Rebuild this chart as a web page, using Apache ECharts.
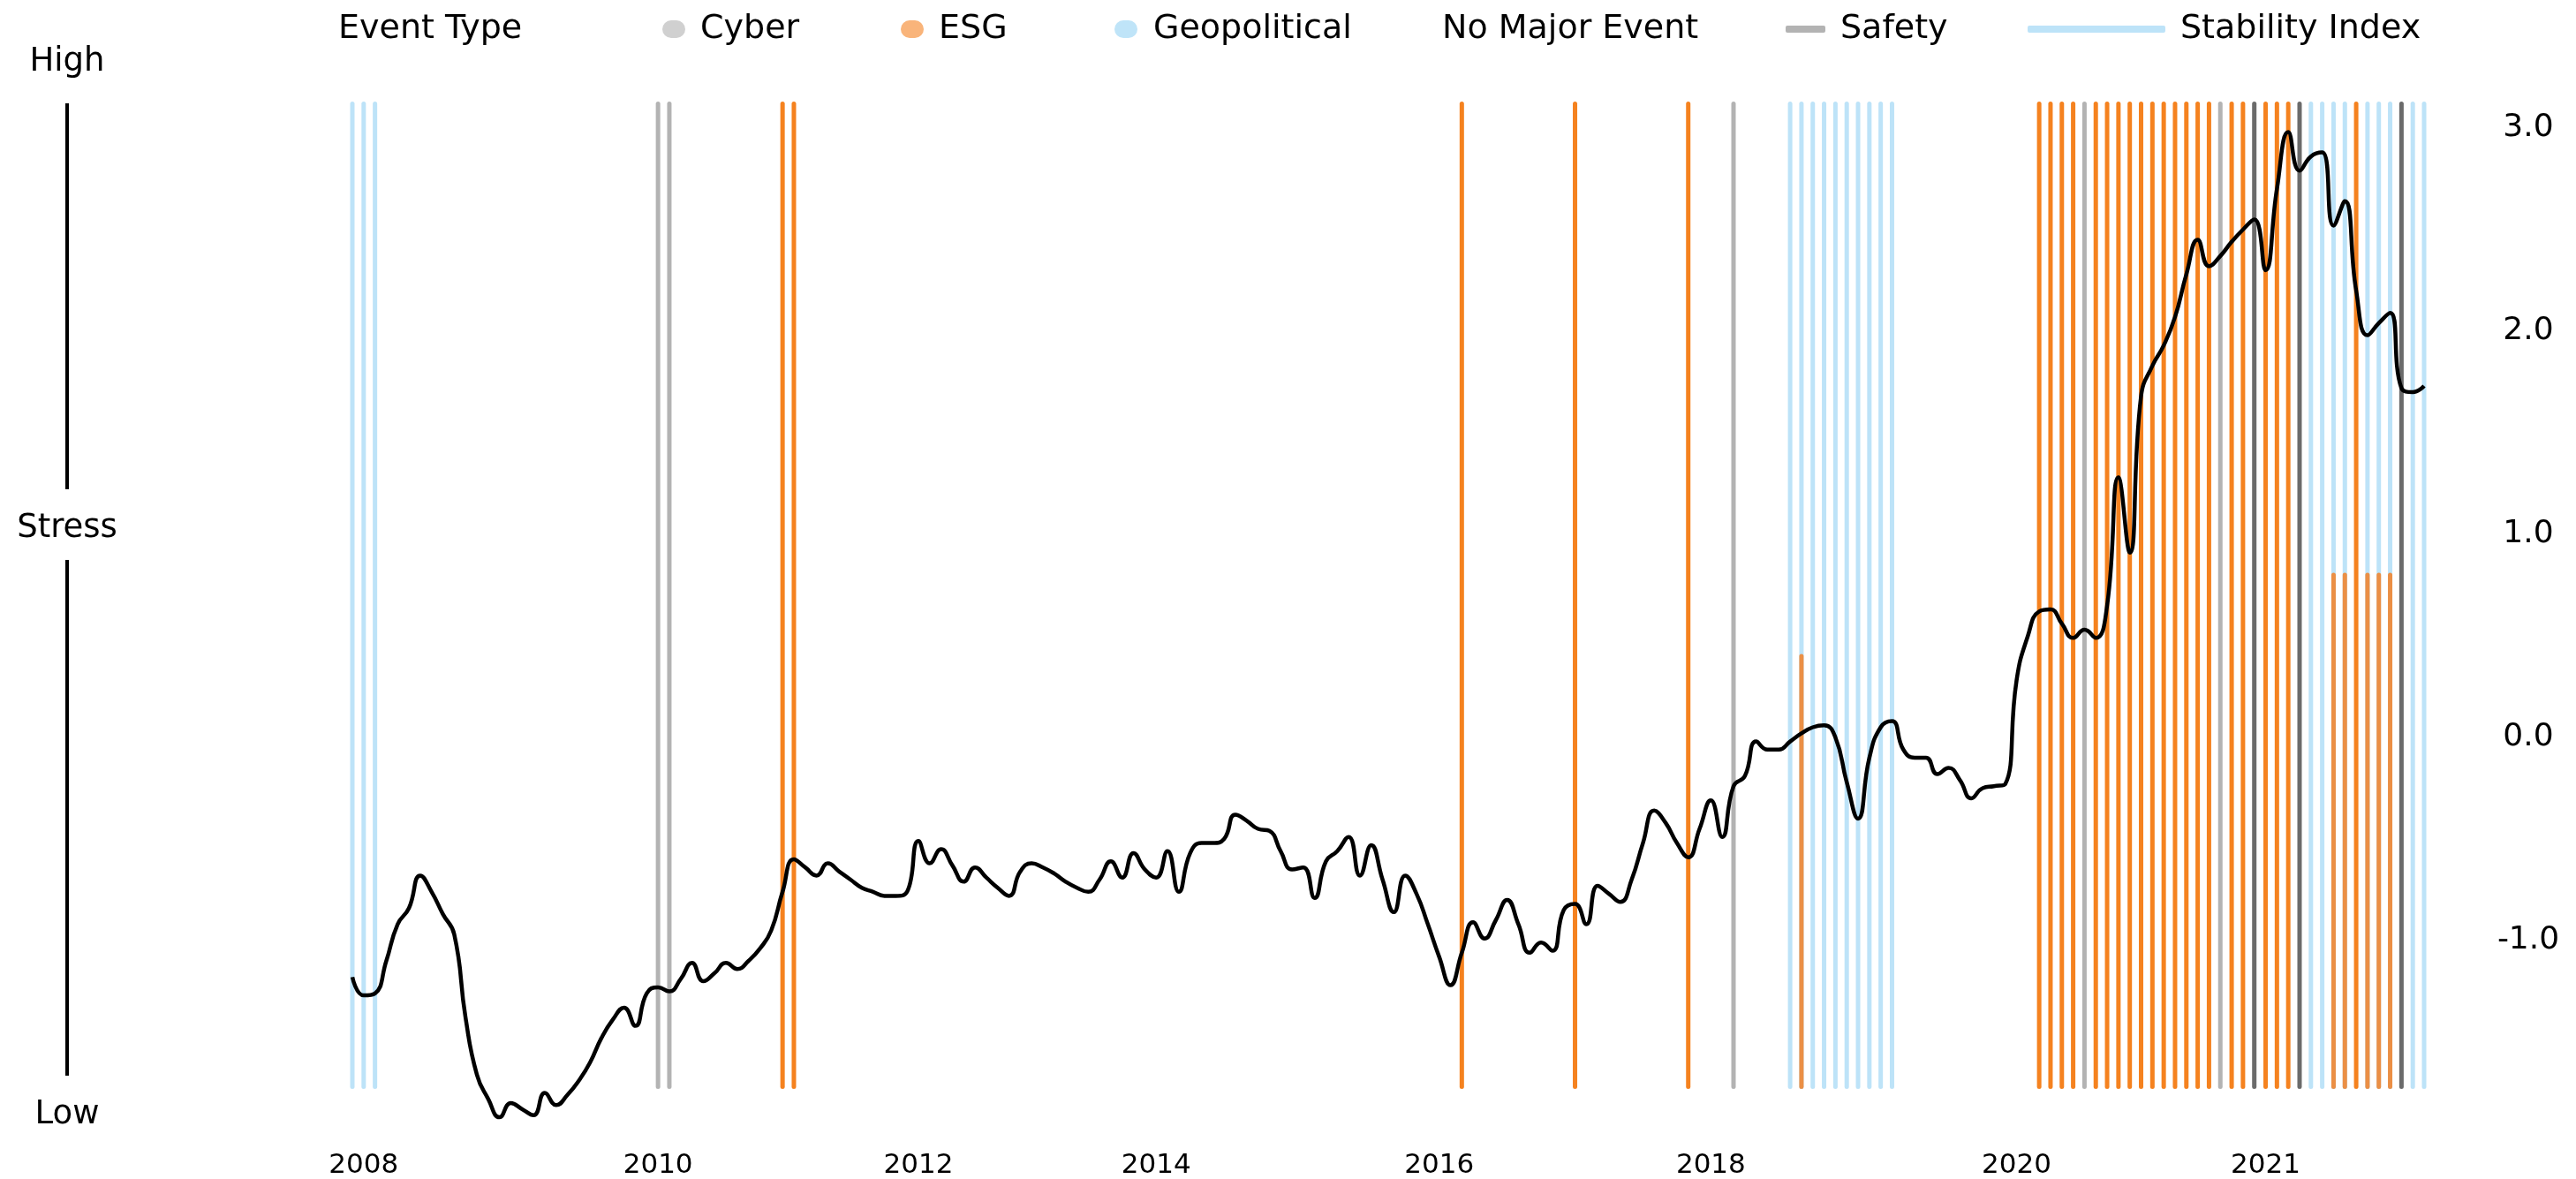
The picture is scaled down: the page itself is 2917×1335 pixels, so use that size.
<!DOCTYPE html>
<html>
<head>
<meta charset="utf-8">
<title>Stability Index and Events</title>
<script src="https://cdn.jsdelivr.net/npm/echarts@6.0.0/dist/echarts.min.js"></script>
<style>
  html, body { margin: 0; padding: 0; background: #fff; }
  #chart { width: 2917px; height: 1335px; }
</style>
</head>
<body>
<div id="chart"></div>
<script>
// one slot per observation period, year labels only at a few of them
const periods = Array.from({ length: 184 }, (_, i) => String(i));
const yearTickIndex = [1, 27, 50, 71, 96, 120, 147, 169];
const yearTickLabel = ["2008", "2010", "2012", "2014", "2016", "2018", "2020", "2021"];

const stabilityIndex = [
  -1.18, -1.27, -1.26, -1.10, -0.92, -0.84, -0.68, -0.76, -0.87, -0.97,
  -1.38, -1.66, -1.78, -1.87, -1.80, -1.83, -1.86, -1.75, -1.81, -1.76,
  -1.69, -1.60, -1.48, -1.39, -1.33, -1.42, -1.26, -1.23, -1.25, -1.19,
  -1.11, -1.20, -1.16, -1.11, -1.14, -1.10, -1.04, -0.95, -0.76, -0.60,
  -0.64, -0.68, -0.62, -0.66, -0.70, -0.74, -0.76, -0.78, -0.78, -0.76,
  -0.51, -0.62, -0.55, -0.63, -0.71, -0.64, -0.69, -0.74, -0.78, -0.66,
  -0.62, -0.64, -0.67, -0.71, -0.74, -0.76, -0.70, -0.61, -0.69, -0.57,
  -0.65, -0.69, -0.56, -0.76, -0.57, -0.52, -0.52, -0.50, -0.38, -0.41,
  -0.45, -0.46, -0.56, -0.65, -0.64, -0.79, -0.61, -0.56, -0.49, -0.68,
  -0.53, -0.70, -0.86, -0.68, -0.77, -0.92, -1.08, -1.22, -1.06, -0.91,
  -0.99, -0.90, -0.80, -0.92, -1.06, -1.01, -1.05, -0.85, -0.82, -0.92,
  -0.73, -0.77, -0.81, -0.70, -0.52, -0.36, -0.42, -0.52, -0.59, -0.45,
  -0.31, -0.49, -0.24, -0.19, -0.02, -0.06, -0.06, -0.02, 0.02, 0.05,
  0.06, 0.00, -0.22, -0.40, -0.10, 0.05, 0.08, -0.06, -0.10, -0.10,
  -0.18, -0.15, -0.21, -0.30, -0.25, -0.24, -0.23, 0.28, 0.50, 0.62,
  0.63, 0.56, 0.49, 0.53, 0.49, 0.65, 1.28, 0.91, 1.68, 1.83,
  1.93, 2.07, 2.28, 2.45, 2.32, 2.37, 2.44, 2.50, 2.55, 2.30,
  2.70, 2.98, 2.79, 2.86, 2.88, 2.52, 2.64, 2.20, 1.98, 2.04,
  2.09, 1.72, 1.70, 1.73
];

// event periods by type
const geopoliticalIdx = [0, 1, 2, 127, 128, 129, 130, 131, 132, 133, 134, 135, 136,
  173, 174, 175, 176, 178, 179, 180, 182, 183];
const esgIdx = [38, 39, 98, 108, 118, 149, 150, 151, 152, 154, 155, 156, 157, 158, 159,
  160, 161, 162, 163, 164, 166, 167, 169, 170, 171, 177];
const esgPartialIdx = [128, 175, 176, 178, 179, 180];
const esgPartialTop = [0.4, 0.8, 0.8, 0.8, 0.8, 0.8];
const cyberIdx = [27, 28];
const safetyIdx = [122, 153, 165];
const safetyMajorIdx = [168, 172, 181];
const eventSpan = [-1.72, 3.12];

const FONT = "'DejaVu Sans', sans-serif";
const PILL = "path://M10,0L16,0A10,10,0,0,1,16,20L10,20A10,10,0,0,1,10,0Z";

const chart = echarts.init(document.getElementById("chart"));

function renderEventLine(params, api) {
  const top = api.coord([api.value(0), api.value(2)]);
  const bottom = api.coord([api.value(0), api.value(1)]);
  return {
    type: "line",
    shape: { x1: top[0], y1: top[1], x2: bottom[0], y2: bottom[1] },
    style: { stroke: api.visual("color"), lineWidth: 5, lineCap: "round" },
  };
}

const fullSpan = (idx) => [idx, eventSpan[0], eventSpan[1]];

function eventSeries(name, color, data) {
  return {
    name,
    type: "custom",
    renderItem: renderEventLine,
    encode: { x: 0, y: [1, 2] },
    itemStyle: { color },
    clip: false,
    silent: true,
    data,
  };
}

const legendText = { fontFamily: FONT, fontSize: 38, color: "#000", padding: [0, 0, 0, 12] };

function legendItem(name, left, icon, w, h, color) {
  return {
    left,
    top: 14,
    padding: 0,
    selectedMode: false,
    icon,
    itemWidth: w,
    itemHeight: h,
    data: [{ name, itemStyle: { color, borderWidth: 0 } }],
    textStyle: legendText,
  };
}

const option = {
  animation: false,
  backgroundColor: "#fff",
  title: {
    text: "Event Type",
    left: 383,
    top: 14,
    padding: 0,
    textStyle: { fontFamily: FONT, fontSize: 38, fontWeight: "normal", color: "#000" },
  },
  legend: [
    legendItem("Cyber", 750, PILL, 26, 20, "#d0d0d0"),
    legendItem("ESG", 1020, PILL, 26, 20, "#f9b47a"),
    legendItem("Geopolitical", 1262, PILL, 28, 20, "#bfe4f8"),
    legendItem("No Major Event", 1610, "roundRect", 6, 20, "rgba(0,0,0,0)"),
    legendItem("Safety", 2022, "roundRect", 45, 8, "#b3b3b3"),
    legendItem("Stability Index", 2296, "roundRect", 156, 8, "#bde3f8"),
  ],
  grid: { left: 399, right: 172, top: 99, height: 1197, containLabel: false },
  xAxis: {
    type: "category",
    data: periods,
    boundaryGap: false,
    axisLine: { show: false, onZero: false },
    axisTick: { show: false },
    splitLine: { show: false },
    axisLabel: {
      interval: (index) => yearTickIndex.includes(index),
      formatter: (value, index) => yearTickLabel[yearTickIndex.indexOf(index)] || "",
      margin: 9,
      fontFamily: FONT,
      fontSize: 31,
      color: "#000",
    },
  },
  yAxis: {
    type: "value",
    position: "right",
    min: -2,
    max: 3.2,
    interval: 1,
    axisLine: { show: false },
    axisTick: { show: false },
    splitLine: { show: false },
    axisLabel: {
      margin: 118,
      align: "center",
      fontFamily: FONT,
      fontSize: 36,
      color: "#000",
      formatter: (v) => (v >= -1 && v <= 3 ? v.toFixed(1) : ""),
    },
  },
  graphic: [
    { type: "line", shape: { x1: 76, y1: 117, x2: 76, y2: 554 }, style: { stroke: "#000", lineWidth: 4 } },
    { type: "line", shape: { x1: 76, y1: 634, x2: 76, y2: 1218 }, style: { stroke: "#000", lineWidth: 4 } },
    { type: "text", x: 76, y: 70, style: { text: "High", font: "37px " + FONT, fill: "#000", align: "center", verticalAlign: "middle", textAlign: "center", textVerticalAlign: "middle" } },
    { type: "text", x: 76, y: 598, style: { text: "Stress", font: "37px " + FONT, fill: "#000", align: "center", verticalAlign: "middle", textAlign: "center", textVerticalAlign: "middle" } },
    { type: "text", x: 76, y: 1262, style: { text: "Low", font: "37px " + FONT, fill: "#000", align: "center", verticalAlign: "middle", textAlign: "center", textVerticalAlign: "middle" } },
  ],
  series: [
    eventSeries("Geopolitical", "#bde3f8", geopoliticalIdx.map(fullSpan)),
    eventSeries(
      "ESG",
      "#f5821f",
      esgIdx.map(fullSpan).concat(
        esgPartialIdx.map((idx, i) => ({
          value: [idx, eventSpan[0], esgPartialTop[i]],
          itemStyle: { color: "#eb8f45" },
        })),
      ),
    ),
    eventSeries("Cyber", "#b3b3b3", cyberIdx.map(fullSpan)),
    eventSeries(
      "Safety",
      "#b3b3b3",
      safetyIdx.map(fullSpan).concat(
        safetyMajorIdx.map((idx) => ({ value: fullSpan(idx), itemStyle: { color: "#6b6b6b" } })),
      ),
    ),
    eventSeries("No Major Event", "rgba(0,0,0,0)", []),
    {
      name: "Stability Index",
      type: "line",
      data: stabilityIndex,
      smooth: true,
      symbol: "none",
      z: 5,
      lineStyle: { width: 4.5, color: "#000" },
      itemStyle: { color: "#000" },
    },
  ],
};

chart.setOption(option);
</script>
</body>
</html>
